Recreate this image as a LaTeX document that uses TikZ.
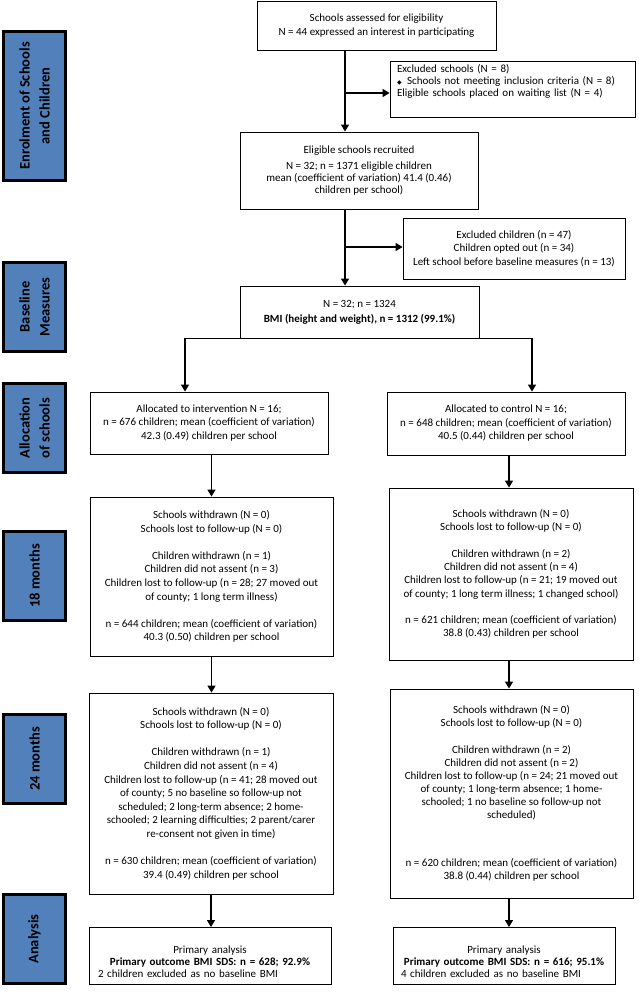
\documentclass[tikz,border=0pt]{standalone}
\usepackage{fontspec}
\setmainfont{Carlito}
\newfontfamily\dejavu{DejaVu Sans}
\usetikzlibrary{arrows.meta,calc}
\definecolor{sideblue}{RGB}{82,128,186}
\tikzset{
  box/.style={draw=black, line width=0.9pt, align=center, inner sep=0pt, font=\fontsize{11}{13.4}\selectfont},
  side/.style={draw=black, line width=2.6pt, fill=sideblue, rotate=90, inner sep=0pt,
    minimum height=62.4pt, align=center, font=\bfseries\fontsize{14.5}{20}\selectfont},
  arr/.style={line width=1.3pt, -{Triangle[width=8pt,length=7pt]}},
}
\begin{document}
\begin{tikzpicture}[x=1pt,y=-1pt]
\fill[white] (0,0) rectangle (638,992);
\useasboundingbox (0,0) rectangle (638,992);

% side labels
\node[side, minimum width=149.4pt] (sE) at (34.5,106) {Enrolment of Schools\\and Children};
\node[side, minimum width=89.4pt] (sB) at (34.5,307) {Baseline\\Measures};
\node[side, minimum width=89.4pt] (sA) at (34.5,428) {Allocation\\of schools};
\node[side, minimum width=89.4pt] (s18) at (34.5,576) {18 months};
\node[side, minimum width=89.4pt] (s24) at (34.5,759) {24 months};
\node[side, minimum width=89.4pt] (sAn) at (34.5,939) {Analysis};

% main boxes
\node[box, minimum width=239pt, minimum height=49pt, font=\fontsize{11}{14}\selectfont] (box1) at (376.5,25.5)
  {Schools assessed for eligibility\\N = 44 expressed an interest in participating};
\node[box, minimum width=245pt, minimum height=56pt, text width=231pt, align=left, font=\fontsize{11}{11.6}\selectfont] (exs) at (512.5,89)
  {Excluded schools (N = 8)\\
   {\dejavu\fontsize{6}{6}\selectfont ◆}\, Schools not meeting inclusion criteria (N = 8)\\
   Eligible schools placed on waiting list (N = 4)\rule[-17pt]{0pt}{1pt}};
\node[box, minimum width=238pt, minimum height=77pt, font=\fontsize{11}{12}\selectfont] (box2) at (359,170.5)
  {Eligible schools recruited\\[4pt]N = 32; n = 1371 eligible children\\mean (coefficient of variation) 41.4 (0.46)\\children per school)};
\node[box, minimum width=222pt, minimum height=61pt, font=\fontsize{11}{13.5}\selectfont] (exc) at (514,248.5)
  {Excluded children (n = 47)\\Children opted out (n = 34)\\Left school before baseline measures (n = 13)};
\node[box, minimum width=239pt, minimum height=52pt, font=\fontsize{11}{15}\selectfont] (box3) at (359.5,312)
  {N = 32; n = 1324\\\textbf{BMI (height and weight), n = 1312 (99.1\%)}};

\node[box, minimum width=238pt, minimum height=62pt, font=\fontsize{11}{13.5}\selectfont] (alI) at (209,423)
  {Allocated to intervention N = 16;\\n = 676 children; mean (coefficient of variation)\\42.3 (0.49) children per school};
\node[box, minimum width=238pt, minimum height=63pt, font=\fontsize{11}{13.5}\selectfont] (alC) at (506,423.5)
  {Allocated to control N = 16;\\n = 648 children; mean (coefficient of variation)\\40.5 (0.44) children per school};

\node[box, minimum width=243pt, minimum height=159pt, font=\fontsize{11}{13.6}\selectfont] (m18I) at (211.5,576.5)
  {Schools withdrawn (N = 0)\\Schools lost to follow-up (N = 0)\\[13.6pt]
   Children withdrawn (n = 1)\\Children did not assent (n = 3)\\
   Children lost to follow-up (n = 28; 27 moved out\\of county; 1 long term illness)\\[13.6pt]
   n = 644 children; mean (coefficient of variation)\\40.3 (0.50) children per school};
\node[box, minimum width=244pt, minimum height=172pt, font=\fontsize{11}{13.3}\selectfont] (m18C) at (511,574)
  {Schools withdrawn (N = 0)\\Schools lost to follow-up (N = 0)\\[13.3pt]
   Children withdrawn (n = 2)\\Children did not assent (n = 4)\\
   Children lost to follow-up (n = 21; 19 moved out\\of county; 1 long term illness; 1 changed school)\\[13.3pt]
   n = 621 children; mean (coefficient of variation)\\38.8 (0.43) children per school};

\node[box, minimum width=244pt, minimum height=201pt, font=\fontsize{11}{13.6}\selectfont] (m24I) at (211,793.5)
  {Schools withdrawn (N = 0)\\Schools lost to follow-up (N = 0)\\[13.6pt]
   Children withdrawn (n = 1)\\Children did not assent (n = 4)\\
   Children lost to follow-up (n = 41; 28 moved out\\of county; 5 no baseline so follow-up not\\
   scheduled; 2 long-term absence; 2 home-\\schooled; 2 learning difficulties; 2 parent/carer\\
   re-consent not given in time)\\[13.6pt]
   n = 630 children; mean (coefficient of variation)\\39.4 (0.49) children per school};
\node[box, minimum width=243pt, minimum height=209pt, font=\fontsize{11}{13}\selectfont] (m24C) at (511.5,793.5)
  {Schools withdrawn (N = 0)\\Schools lost to follow-up (N = 0)\\[14pt]
   Children withdrawn (n = 2)\\Children did not assent (n = 2)\\
   Children lost to follow-up (n = 24; 21 moved out\\of county; 1 long-term absence; 1 home-\\
   schooled; 1 no baseline so follow-up not\\scheduled)\\[35pt]
   n = 620 children; mean (coefficient of variation)\\38.8 (0.44) children per school};

\node[box, minimum width=242pt, minimum height=57pt, text width=224pt, font=\fontsize{11}{11.7}\selectfont] (anI) at (210,956)
  {\rule{0pt}{19pt}Primary analysis\\\textbf{Primary outcome BMI SDS: n = 628; 92.9\%}\\
   \makebox[\linewidth][l]{2 children excluded as no baseline BMI}};
\node[box, minimum width=222pt, minimum height=57pt, text width=206pt, font=\fontsize{11}{11.7}\selectfont] (anC) at (504,956)
  {\rule{0pt}{19pt}Primary analysis\\\textbf{Primary outcome BMI SDS: n = 616; 95.1\%}\\
   \makebox[\linewidth][l]{4 children excluded as no baseline BMI}};

% connectors
\coordinate (j1) at (345,93);
\coordinate (j2) at (345,247);
\draw[arr] ([xshift=-31.5pt]box1.south) -- ([xshift=-14pt]box2.north);
\draw[arr] (j1) -- (j1 -| exs.west);
\draw[arr] ([xshift=-14pt]box2.south) -- ([xshift=-14.5pt]box3.north);
\draw[arr] (j2) -- (j2 -| exc.west);
\draw[arr] (box3.south) -| ([xshift=-24pt]alI.north);
\draw[arr] (box3.south) -| ([xshift=26pt]alC.north);
\draw[arr] (alI.south -| m18I.north) -- (m18I.north);
\draw[arr] ([xshift=3pt]alC.south) -- ([xshift=3pt]alC.south |- m18C.north);
\draw[arr] (m18I.south) -- (m18I.south |- m24I.north);
\draw[arr] ([xshift=-2pt]m18C.south) -- ([xshift=-2pt]m18C.south |- m24C.north);
\draw[arr] (m24I.south) -- (m24I.south |- anI.north);
\draw[arr] ([xshift=-2.5pt]m24C.south) -- ([xshift=-2.5pt]m24C.south |- anC.north);
\end{tikzpicture}
\end{document}
